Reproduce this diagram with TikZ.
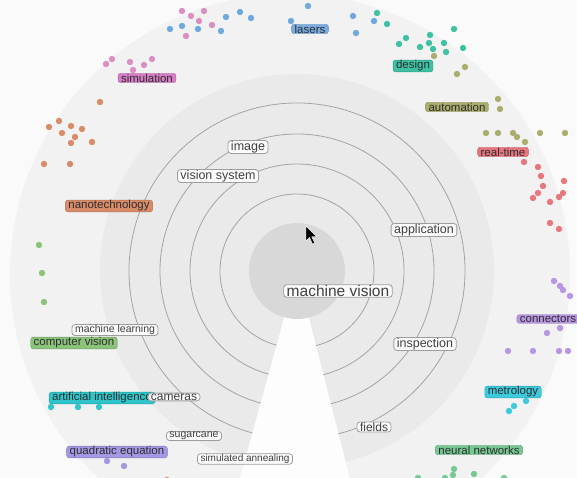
\documentclass[tikz,border=0pt]{standalone}
\usepackage{fontspec}
\setmainfont{Liberation Sans}
\usepackage{xcolor}
\usepackage{tikz}

\definecolor{paper}{HTML}{F9FAF9}
\definecolor{outerband}{HTML}{F1F2F1}
\definecolor{midband}{HTML}{E9EAE9}
\definecolor{discgray}{HTML}{D7D8D7}
\definecolor{ringline}{HTML}{A3A5A3}
\definecolor{termline}{HTML}{9C9E9C}
\definecolor{termfill}{HTML}{FBFBFB}
\definecolor{cLasers}{HTML}{79ADE2}
\definecolor{cSim}{HTML}{D67DC5}
\definecolor{cNano}{HTML}{D98B67}
\definecolor{cDesign}{HTML}{3EC1A2}
\definecolor{cAuto}{HTML}{ABAD6C}
\definecolor{cReal}{HTML}{E8767F}
\definecolor{cComp}{HTML}{8BC37B}
\definecolor{cAI}{HTML}{2EC5CB}
\definecolor{cQuad}{HTML}{A597E3}
\definecolor{cConn}{HTML}{B996E3}
\definecolor{cMetro}{HTML}{3DCADC}
\definecolor{cNeural}{HTML}{78C894}
\definecolor{dPink}{HTML}{D98FC2}
\definecolor{dBlue}{HTML}{6EA8DC}

\begin{document}
\begin{tikzpicture}[x=1pt,y=-1pt,
  tag/.style={draw=#1!80!black,fill=#1,rounded corners=2.5pt,inner xsep=3pt,inner ysep=0.5pt,
    line width=0.4pt,text=black!82,font=\fontsize{11.5}{12}\selectfont},
  term/.style={draw=termline,fill=termfill,rounded corners=3pt,inner xsep=3pt,inner ysep=0.6pt,
    line width=0.8pt,text=black!75,font=\fontsize{#1}{#1}\selectfont},
  ring/.style={draw=ringline,line width=0.8pt}]
\useasboundingbox (0,0) rectangle (577,478);
\clip (0,0) rectangle (577,478);
\fill[paper] (0,0) rectangle (577,478);

% bands, wedge and rings
\coordinate (c) at (297,271);
\fill[outerband] (290,274) circle (280);
\fill[midband] (c) circle (197);
\fill[paper!40!white] (c) -- ++(75.7:300) arc (75.7:105.4:300) -- cycle;
\foreach \r in {77,107,137,168} {
  \draw[ring] (c) ++(105.4:\r) arc (105.4:435.7:\r);
}
\fill[discgray] (c) circle (48);

% dots
\foreach \x/\y in {182/11,191/16,204/11,199/21,212/25,186/36,106/64,112/59,130/62,133/70,144/65,152/59}
  \fill[dPink] (\x,\y) circle (3.2);
\foreach \x/\y in {170/29,182/26,198/29,221/31,226/17,240/12,251/18,291/21,308/6,353/16,356/33,374/21}
  \fill[dBlue] (\x,\y) circle (3.2);
\foreach \x/\y in {377/13,387/24,399/44,406/38,420/47,430/35,429/43,433/49,444/43,446/52,454/29,463/48}
  \fill[cDesign] (\x,\y) circle (3.2);
\foreach \x/\y in {434/56,457/74,465/67,498/99,500/109,486/133,498/133,513/133,517/137,525/142,540/133,565/133}
  \fill[cAuto] (\x,\y) circle (3.2);
\foreach \x/\y in {524/162,538/167,541/176,543/186,538/193,533/198,550/202,564/181,563/193,559/197,550/223,559/229}
  \fill[cReal] (\x,\y) circle (3.2);
\foreach \x/\y in {100/102,49/127,59/121,71/126,82/129,62/133,75/137,71/143,92/142,44/164,70/164,167/480}
  \fill[cNano] (\x,\y) circle (3.2);
\foreach \x/\y in {39/245,42/273,44/302}
  \fill[cComp] (\x,\y) circle (3.2);
\foreach \x/\y in {51/407,78/407,99/407}
  \fill[cAI] (\x,\y) circle (3.2);
\foreach \x/\y in {107/461,124/466}
  \fill[cQuad] (\x,\y) circle (3.2);
\foreach \x/\y in {554/281,560/286,563/290,570/296,547/333,560/328,508/351,533/351,559/351,568/351}
  \fill[cConn] (\x,\y) circle (3.2);
\foreach \x/\y in {526/401,514/406,509/411}
  \fill[cMetro] (\x,\y) circle (3.2);
\foreach \x/\y in {454/469,453/475,474/474,418/478,445/478,504/478}
  \fill[cNeural] (\x,\y) circle (3.2);

% topic tags
\node[tag=cLasers] (lasers) at (310,29) {lasers};
\node[tag=cDesign] (design) at (413,66) {design};
\node[tag=cAuto] (automation) at (457,107) {automation};
\node[tag=cReal] (realtime) at (503,152) {real-time};
\node[tag=cSim] (simulation) at (147,78) {simulation};
\node[tag=cNano] (nanotech) at (109,206) {nanotechnology};
\node[tag=cComp] (compvision) at (74,343) {computer vision};
\node[tag=cAI] (artint) at (102,398) {artificial intelligence};
\node[tag=cQuad] (quadratic) at (117,452) {quadratic equation};
\node[tag=cConn] (connectors) at (548,319) {connectors};
\node[tag=cMetro] (metrology) at (513,392) {metrology};
\node[tag=cNeural] (neuralnet) at (479,450) {neural networks};

% terms
\node[term=15.5] (machvision) at (338,291) {machine vision};
\node[term=12.5] (image) at (248,147) {image};
\node[term=12.5] (visionsys) at (218,176) {vision system};
\node[term=12.5] (application) at (424,230) {application};
\node[term=12.5] (inspection) at (425,344) {inspection};
\node[term=12] (fields) at (374,427) {fields};
\node[term=10.5] (machlearn) at (115,330) {machine learning};
\node[term=12] (cameras) at (174,397) {cameras};
\node[term=10.5] (sugarcane) at (194,436) {sugarcane};
\node[term=10] (simanneal) at (245,459) {simulated annealing};

% pointer
\filldraw[fill=black,draw=white,line width=0.4pt] (306,226) -- ++(0,15) -- ++(3.5,-3.5)
  -- ++(3,6.5) -- ++(2.2,-1) -- ++(-3,-6.3) -- ++(5,0) -- cycle;
\end{tikzpicture}
\end{document}
